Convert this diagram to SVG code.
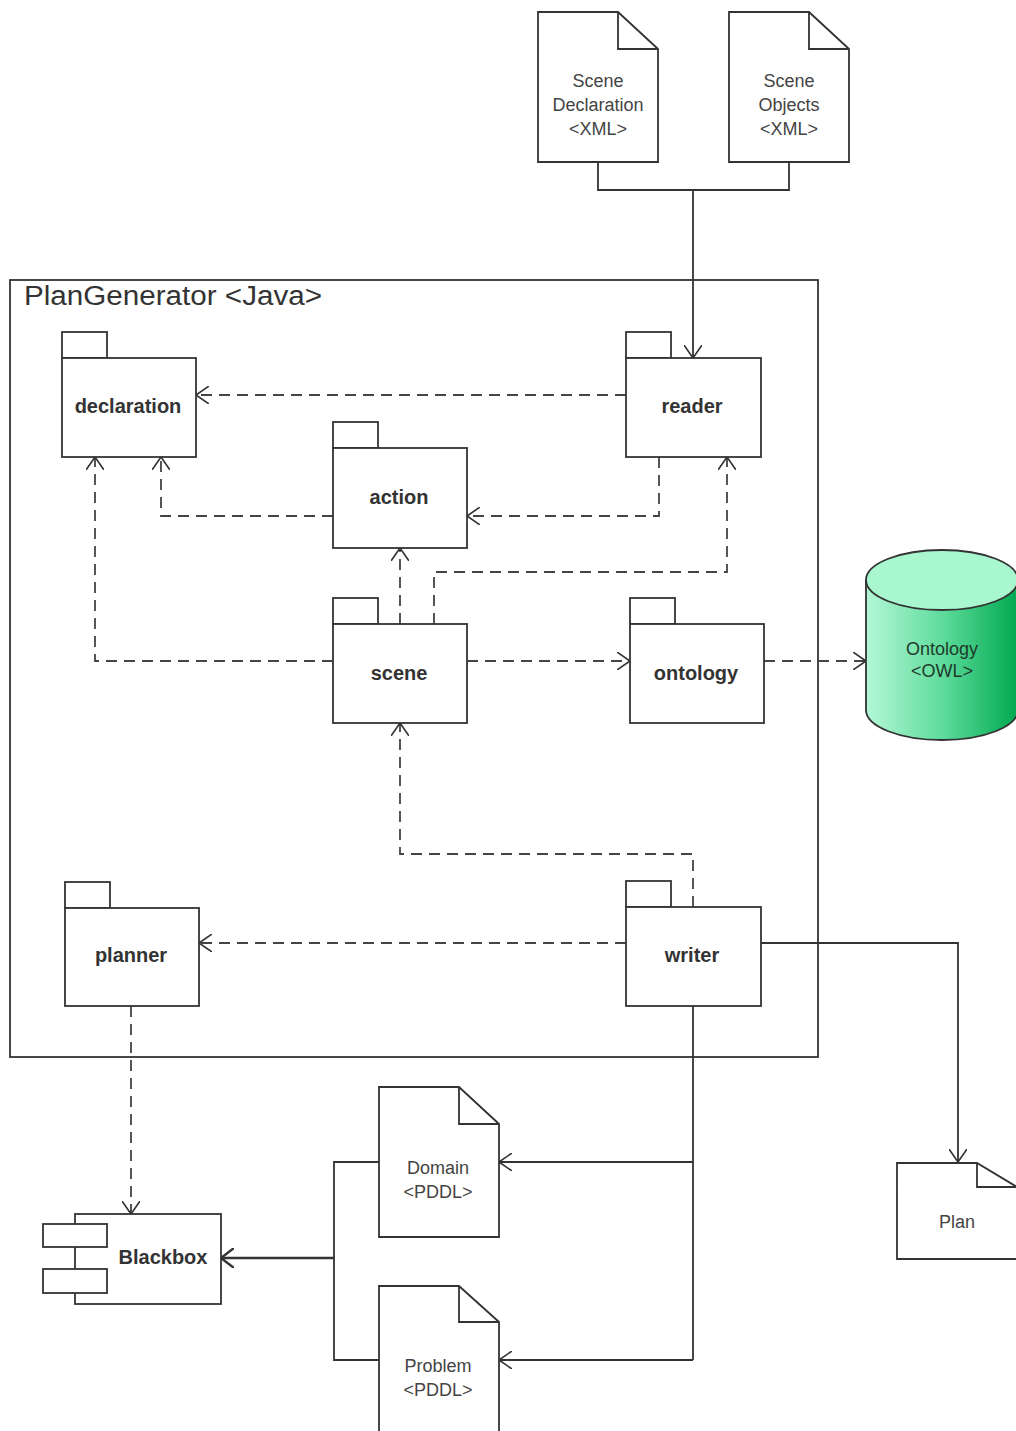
<svg xmlns="http://www.w3.org/2000/svg" width="1016" height="1431" viewBox="0 0 1016 1431">
<style>
.sh{fill:#fff;stroke:#333;stroke-width:1.8}
.t{font-family:"Liberation Sans",Arial,sans-serif;font-size:18px;fill:#444;text-anchor:middle}
.b{font-family:"Liberation Sans",Arial,sans-serif;font-size:20px;font-weight:bold;fill:#333;text-anchor:middle}
.c{fill:none;stroke:#333;stroke-width:1.8}
.d{fill:none;stroke:#444;stroke-width:1.8;stroke-dasharray:11 7}
</style>
<defs>
<marker id="a" viewBox="0 0 13 18" refX="13" refY="9" markerWidth="13" markerHeight="18" markerUnits="userSpaceOnUse" orient="auto">
<path d="M0,0 L13,9 L0,18" fill="none" stroke="#333" stroke-width="1.6"/>
</marker>
<marker id="ab" viewBox="0 0 14 20" refX="13" refY="10" markerWidth="14" markerHeight="20" markerUnits="userSpaceOnUse" orient="auto">
<path d="M0,0 L13,10 L0,20" fill="none" stroke="#333" stroke-width="2.4"/>
</marker>
<linearGradient id="g" x1="0" y1="0" x2="1" y2="0">
<stop offset="0" stop-color="#b4f7d6"/>
<stop offset="0.5" stop-color="#5fdc9c"/>
<stop offset="1" stop-color="#00a850"/>
</linearGradient>
</defs>

<g id="frame">
<rect x="10" y="280" width="808" height="777" class="sh"/>
<text x="24" y="305" font-family="Liberation Sans,Arial,sans-serif" font-size="27" fill="#333" textLength="298" lengthAdjust="spacingAndGlyphs">PlanGenerator &lt;Java&gt;</text>
</g>

<g id="connectors">
<path class="c" d="M598,162 V190 H789 V162"/>
<path class="c" d="M693,190 V358" marker-end="url(#a)"/>
<path class="d" d="M626,395 H196" marker-end="url(#a)"/>
<path class="d" d="M659,457 V516 H467" marker-end="url(#a)"/>
<path class="d" d="M333,516 H161 V457" marker-end="url(#a)"/>
<path class="d" d="M333,661 H95 V457" marker-end="url(#a)"/>
<path class="d" d="M400,624 V548" marker-end="url(#a)"/>
<path class="d" d="M434,624 V572 H727 V457" marker-end="url(#a)"/>
<path class="d" d="M467,661 H630" marker-end="url(#a)"/>
<path class="d" d="M764,661 H866" marker-end="url(#a)"/>
<path class="d" d="M693,907 V854 H400 V723" marker-end="url(#a)"/>
<path class="d" d="M626,943 H199" marker-end="url(#a)"/>
<path class="d" d="M131,1006 V1214" marker-end="url(#a)"/>
<path class="c" d="M761,943 H958 V1162" marker-end="url(#a)"/>
<path class="c" d="M693,1006 V1360"/>
<path class="c" d="M693,1162 H499" marker-end="url(#a)"/>
<path class="c" d="M693,1360 H499" marker-end="url(#a)"/>
<path class="c" d="M379,1162 H334 V1360 H379"/>
<path fill="none" stroke="#333" stroke-width="2.4" d="M334,1258 H221" marker-end="url(#ab)"/>
</g>

<g id="scene-declaration">
<path class="sh" d="M538,12 H618 L658,49 V162 H538 Z"/>
<path class="c" d="M618,12 V49 H658"/>
<text class="t" x="598" y="87">Scene</text>
<text class="t" x="598" y="111">Declaration</text>
<text class="t" x="598" y="135">&lt;XML&gt;</text>
</g>

<g id="scene-objects">
<path class="sh" d="M729,12 H809 L849,49 V162 H729 Z"/>
<path class="c" d="M809,12 V49 H849"/>
<text class="t" x="789" y="87">Scene</text>
<text class="t" x="789" y="111">Objects</text>
<text class="t" x="789" y="135">&lt;XML&gt;</text>
</g>

<g id="declaration">
<rect class="sh" x="62" y="332" width="45" height="26"/>
<rect class="sh" x="62" y="358" width="134" height="99"/>
<text class="b" x="128" y="413">declaration</text>
</g>

<g id="reader">
<rect class="sh" x="626" y="332" width="45" height="26"/>
<rect class="sh" x="626" y="358" width="135" height="99"/>
<text class="b" x="692" y="413">reader</text>
</g>

<g id="action">
<rect class="sh" x="333" y="422" width="45" height="26"/>
<rect class="sh" x="333" y="448" width="134" height="100"/>
<text class="b" x="399" y="504">action</text>
</g>

<g id="scene">
<rect class="sh" x="333" y="598" width="45" height="26"/>
<rect class="sh" x="333" y="624" width="134" height="99"/>
<text class="b" x="399" y="680">scene</text>
</g>

<g id="ontology">
<rect class="sh" x="630" y="598" width="45" height="26"/>
<rect class="sh" x="630" y="624" width="134" height="99"/>
<text class="b" x="696" y="680">ontology</text>
</g>

<g id="ontology-owl">
<path d="M866,580 V710 A76,30 0 0 0 1018,710 V580 Z" fill="url(#g)" stroke="#333" stroke-width="1.8"/>
<ellipse cx="942" cy="580" rx="76" ry="30" fill="#a8f7cf" stroke="#333" stroke-width="1.8"/>
<text class="t" x="942" y="655" style="fill:#1e3b2c">Ontology</text>
<text class="t" x="942" y="677" style="fill:#1e3b2c">&lt;OWL&gt;</text>
</g>

<g id="planner">
<rect class="sh" x="65" y="882" width="45" height="26"/>
<rect class="sh" x="65" y="908" width="134" height="98"/>
<text class="b" x="131" y="962">planner</text>
</g>

<g id="writer">
<rect class="sh" x="626" y="881" width="45" height="26"/>
<rect class="sh" x="626" y="907" width="135" height="99"/>
<text class="b" x="692" y="962">writer</text>
</g>

<g id="domain">
<path class="sh" d="M379,1087 H459 L499,1124 V1237 H379 Z"/>
<path class="c" d="M459,1087 V1124 H499"/>
<text class="t" x="438" y="1174">Domain</text>
<text class="t" x="438" y="1198">&lt;PDDL&gt;</text>
</g>

<g id="problem">
<path class="sh" d="M379,1286 H459 L499,1322 V1440 H379 Z"/>
<path class="c" d="M459,1286 V1322 H499"/>
<text class="t" x="438" y="1372">Problem</text>
<text class="t" x="438" y="1396">&lt;PDDL&gt;</text>
</g>

<g id="blackbox">
<rect class="sh" x="75" y="1214" width="146" height="90"/>
<rect class="sh" x="43" y="1224" width="64" height="23"/>
<rect class="sh" x="43" y="1269" width="64" height="24"/>
<text class="b" x="163" y="1264">Blackbox</text>
</g>

<g id="plan">
<path class="sh" d="M897,1163 H977 L1017,1187 V1259 H897 Z"/>
<path class="c" d="M977,1163 V1187 H1017"/>
<text class="t" x="957" y="1228">Plan</text>
</g>
</svg>
